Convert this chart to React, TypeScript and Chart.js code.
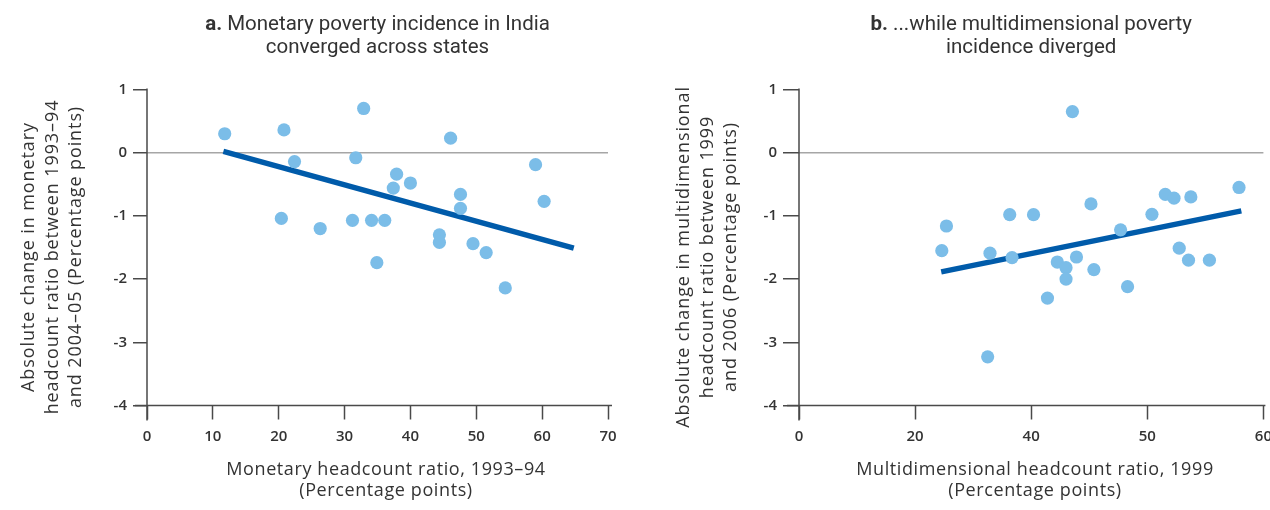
import { useEffect, useRef } from "react";
import { Chart, registerables } from "chart.js";

Chart.register(...registerables);

// ---------- Panel a: monetary poverty ----------
const monetaryX = [11.8, 20.8, 32.9, 46.1, 22.4, 31.7, 59.0, 37.9, 40.0, 37.4, 47.6, 47.6, 60.3, 20.4, 26.3, 31.2, 34.1, 36.1, 44.4, 44.4, 49.5, 51.5, 34.9, 54.4];
const monetaryY = [0.30, 0.36, 0.70, 0.23, -0.14, -0.08, -0.19, -0.34, -0.48, -0.56, -0.66, -0.88, -0.77, -1.04, -1.20, -1.07, -1.07, -1.07, -1.30, -1.42, -1.44, -1.58, -1.74, -2.14];
const monetaryTrendX = [11.6, 64.8];
const monetaryTrendY = [0.02, -1.51];
const xTickValuesA = [0, 10, 20, 30, 40, 50, 60, 70];
const xTickLabelsA = ["0", "10", "20", "30", "40", "50", "60", "70"];

// ---------- Panel b: multidimensional poverty ----------
const multiX = [47.1, 75.8, 63.1, 64.6, 67.5, 50.3, 36.3, 40.4, 60.8, 25.4, 55.4, 24.6, 32.9, 36.7, 47.8, 65.5, 67.1, 70.7, 44.5, 46.0, 50.8, 46.0, 56.6, 42.8, 32.5];
const multiY = [0.65, -0.55, -0.66, -0.72, -0.70, -0.81, -0.98, -0.98, -0.975, -1.16, -1.22, -1.55, -1.59, -1.66, -1.65, -1.51, -1.70, -1.70, -1.73, -1.82, -1.85, -2.00, -2.12, -2.30, -3.23];
const multiTrendX = [24.5, 76.2];
const multiTrendY = [-1.886, -0.92];
const xTickValuesB = [0, 20, 40, 60, 80];
const xTickLabelsB = ["0", "20", "40", "50", "60"];

const yTickValues = [1, 0, -1, -2, -3, -4];

const titleA = { prefix: "a.", lines: [" Monetary poverty incidence in India", "converged across states"] };
const titleB = { prefix: "b.", lines: [" ...while multidimensional poverty", "incidence diverged"] };
const xTitleA = ["Monetary headcount ratio, 1993\u201394", "(Percentage points)"];
const xTitleB = ["Multidimensional headcount ratio, 1999", "(Percentage points)"];
const yTitleA = ["Absolute change in monetary", "headcount ratio between 1993\u201394", "and 2004\u201305 (Percentage points)"];
const yTitleB = ["Absolute change in multidimensional", "headcount ratio between 1999", "and 2006 (Percentage points)"];

const TEXT = "#333333";
const AXIS = "#4a4a4a";
const DOT = "#7bbde8";
const TREND = "#005baa";

const panelText = {
  id: "panelText",
  afterDraw(chart: any, _args: any, opts: any) {
    const { ctx, chartArea } = chart;
    ctx.save();
    ctx.fillStyle = TEXT;
    const cx = (chartArea.left + chartArea.right) / 2;
    // title
    ctx.textBaseline = "alphabetic";
    ctx.textAlign = "left";
    ctx.font = "bold 20.5px Roboto";
    const w1 = ctx.measureText(opts.title.prefix).width;
    ctx.font = "20.5px Roboto";
    const w2 = ctx.measureText(opts.title.lines[0]).width;
    const x0 = cx - (w1 + w2) / 2;
    ctx.font = "bold 20.5px Roboto";
    ctx.fillText(opts.title.prefix, x0, 29.5);
    ctx.font = "20.5px Roboto";
    ctx.fillText(opts.title.lines[0], x0 + w1, 29.5);
    ctx.textAlign = "center";
    ctx.fillText(opts.title.lines[1], cx, 53);
    // x title
    ctx.font = '18px "Open Sans"';
    try { (ctx as any).letterSpacing = "0.6px"; } catch (e) {}
    ctx.textBaseline = "middle";
    opts.xTitle.forEach((t: string, i: number) => ctx.fillText(t, opts.xTitleX, opts.xTitleY + i * 21.5));
    // y title
    try { (ctx as any).letterSpacing = "0.9px"; } catch (e) {}
    ctx.translate(0, opts.yTitleCenter);
    ctx.rotate(-Math.PI / 2);
    opts.yTitle.forEach((t: string, i: number) => ctx.fillText(t, 0, opts.yTitleX + i * 23.5));
    ctx.restore();
  },
};

const axisLines = {
  id: "axisLines",
  beforeDatasetsDraw(chart: any, _args: any, opts: any) {
    const { ctx, chartArea } = chart;
    ctx.save();
    ctx.strokeStyle = AXIS;
    ctx.lineWidth = 1.5;
    ctx.beginPath();
    ctx.moveTo(chartArea.left, chartArea.top - 1);
    ctx.lineTo(chartArea.left, chartArea.bottom + 15);
    ctx.moveTo(chartArea.left - opts.leftExt, chartArea.bottom);
    ctx.lineTo(chartArea.right + opts.rightExt, chartArea.bottom);
    ctx.stroke();
    ctx.restore();
  },
};

function buildConfig(p: any) {
  const scatter = p.xs.map((x: number, i: number) => ({ x, y: p.ys[i] }));
  const trend = p.tx.map((x: number, i: number) => ({ x, y: p.ty[i] }));
  return {
    type: "scatter",
    data: {
      datasets: [
        {
          type: "scatter",
          data: scatter,
          backgroundColor: DOT,
          borderWidth: 0,
          pointRadius: 6.6,
          order: 0,
        },
        {
          type: "line",
          data: trend,
          borderColor: TREND,
          borderWidth: 5.5,
          pointRadius: 0,
          showLine: true,
          fill: false,
          borderCapStyle: "butt",
          order: 1,
        },
      ],
    },
    options: {
      responsive: false,
      animation: false,
      events: [],
      layout: { padding: { top: 89.5, left: 0, right: p.padRight, bottom: 0 } },
      plugins: {
        legend: { display: false },
        tooltip: { enabled: false },
        panelText: {
          title: p.title,
          xTitle: p.xTitle,
          xTitleX: p.xTitleX,
          xTitleY: 469.5,
          yTitle: p.yTitle,
          yTitleX: p.yTitleX,
          yTitleCenter: 257,
        },
        axisLines: { leftExt: 12, rightExt: p.rightExt },
      },
      scales: {
        x: {
          type: "linear",
          min: p.xMin,
          max: p.xMax,
          afterBuildTicks: (s: any) => {
            s.ticks = p.xTickValues.map((v: number) => ({ value: v }));
          },
          afterFit: (s: any) => {
            s.height = 104.5;
            s.paddingLeft = 0;
            s.paddingRight = 0;
          },
          border: { display: false },
          grid: {
            drawOnChartArea: false,
            drawTicks: true,
            tickLength: 14,
            tickColor: AXIS,
            tickWidth: 1.5,
          },
          ticks: {
            padding: 8,
            color: TEXT,
            font: { family: "Open Sans", size: 15, weight: "600" },
            maxRotation: 0,
            autoSkip: false,
            callback: (v: number) => p.xTickLabels[p.xTickValues.indexOf(v)],
          },
          title: { display: false },
        },
        y: {
          type: "linear",
          min: -4,
          max: 1,
          afterBuildTicks: (s: any) => {
            s.ticks = yTickValues.map((v: number) => ({ value: v }));
          },
          afterFit: (s: any) => {
            s.width = p.yWidth;
            s.paddingTop = 0;
            s.paddingBottom = 0;
          },
          border: { display: false },
          grid: {
            drawOnChartArea: true,
            drawTicks: true,
            tickLength: p.tickLen,
            tickColor: AXIS,
            tickWidth: 1.5,
            lineWidth: 1.5,
            color: (c: any) => (c.tick && c.tick.value === 0 ? "#a6a6a6" : "rgba(0,0,0,0)"),
          },
          ticks: {
            padding: 6,
            color: TEXT,
            font: { family: "Open Sans", size: 15, weight: "600" },
            autoSkip: false,
            callback: (v: number) => String(v),
          },
          title: { display: false },
        },
      },
    },
    plugins: [panelText, axisLines],
  };
}

function Panel(props: { width: number; params: any }) {
  const ref = useRef<HTMLCanvasElement | null>(null);
  useEffect(() => {
    if (!ref.current) return;
    const chart = new Chart(ref.current, buildConfig(props.params) as any);
    return () => chart.destroy();
  }, []);
  return <canvas ref={ref} width={props.width} height={510} style={{ display: "block", width: props.width, height: 510 }} />;
}

const paramsA = {
  xs: monetaryX,
  ys: monetaryY,
  tx: monetaryTrendX,
  ty: monetaryTrendY,
  xMin: 0,
  xMax: 70,
  xTickValues: xTickValuesA,
  xTickLabels: xTickLabelsA,
  title: titleA,
  xTitle: xTitleA,
  xTitleX: 386,
  yTitle: yTitleA,
  yTitleX: 29,
  yWidth: 147,
  tickLen: 14,
  padRight: 32,
  rightExt: 4,
};

const paramsB = {
  xs: multiX,
  ys: multiY,
  tx: multiTrendX,
  ty: multiTrendY,
  xMin: 0,
  xMax: 80,
  xTickValues: xTickValuesB,
  xTickLabels: xTickLabelsB,
  title: titleB,
  xTitle: xTitleB,
  xTitleX: 395,
  yTitle: yTitleB,
  yTitleX: 44,
  yWidth: 159,
  tickLen: 16,
  padRight: 5,
  rightExt: 2,
};

export default function App() {
  useEffect(() => {
    document.body.style.margin = "0";
    document.body.style.background = "#ffffff";
  }, []);
  return (
    <div style={{ display: "flex", width: 1270, height: 510, background: "#fff" }}>
      <Panel width={640} params={paramsA} />
      <Panel width={630} params={paramsB} />
    </div>
  );
}
